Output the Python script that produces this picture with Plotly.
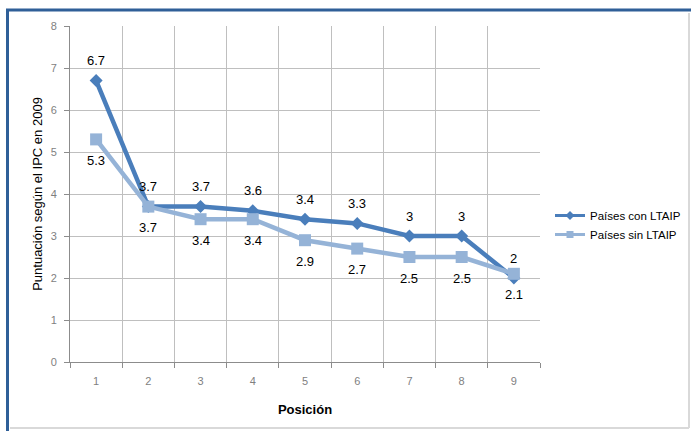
import plotly.graph_objects as go

posiciones = ["1", "2", "3", "4", "5", "6", "7", "8", "9"]
con_ltaip = [6.7, 3.7, 3.7, 3.6, 3.4, 3.3, 3, 3, 2]
sin_ltaip = [5.3, 3.7, 3.4, 3.4, 2.9, 2.7, 2.5, 2.5, 2.1]
y_ticks = [0, 1, 2, 3, 4, 5, 6, 7, 8]

W, H = 691, 431
L, R, T, B = 70, 540, 26, 362

C_DARK = "#4A7EBB"
C_LIGHT = "#95B3D7"
FONT = "Liberation Sans"


def px_x(p):
    return (p - L) / (R - L)


def px_y(p):
    return (B - p) / (B - T)


fig = go.Figure()
fig.add_trace(go.Scatter(
    x=posiciones, y=con_ltaip, name="Países con LTAIP", showlegend=False,
    mode="lines+markers",
    line=dict(color=C_DARK, width=4.5),
    marker=dict(symbol="diamond", size=10, color=C_DARK),
))
fig.add_trace(go.Scatter(
    x=posiciones, y=sin_ltaip, name="Países sin LTAIP", showlegend=False,
    mode="lines+markers",
    line=dict(color=C_LIGHT, width=4.5),
    marker=dict(symbol="square", size=12, color=C_LIGHT),
))
# legend entries (smaller symbols as in the original)
fig.add_trace(go.Scatter(
    x=[None], y=[None], name="Países con LTAIP", mode="lines+markers",
    line=dict(color=C_DARK, width=3),
    marker=dict(symbol="diamond", size=7, color=C_DARK),
))
fig.add_trace(go.Scatter(
    x=[None], y=[None], name="Países sin LTAIP", mode="lines+markers",
    line=dict(color=C_LIGHT, width=3),
    marker=dict(symbol="square", size=7, color=C_LIGHT),
))

annotations = []
for i, yv in enumerate(con_ltaip):
    annotations.append(dict(x=i, y=yv, text=str(yv), showarrow=False,
                            yshift=20, font=dict(family=FONT, size=13, color="#000000")))
for i, yv in enumerate(sin_ltaip):
    annotations.append(dict(x=i, y=yv, text=str(yv), showarrow=False,
                            yshift=-21, font=dict(family=FONT, size=13, color="#000000")))

fig.update_layout(
    width=W, height=H,
    margin=dict(l=L, r=W - R, t=T, b=H - B, pad=0, autoexpand=False),
    paper_bgcolor="white", plot_bgcolor="white",
    font=dict(family=FONT, color="#000000"),
    showlegend=True,
    annotations=annotations,
    legend=dict(x=px_x(550), y=px_y(201), xanchor="left", yanchor="top",
                font=dict(family=FONT, size=11.5, color="#000000"),
                bgcolor="rgba(0,0,0,0)", itemwidth=30),
    xaxis=dict(
        type="category", range=[-0.5, 8.5], tickson="boundaries",
        showgrid=True, gridcolor="#BFBFBF", gridwidth=1,
        showline=True, linecolor="#8C8C8C", linewidth=1,
        ticks="outside", ticklen=5, tickcolor="#8C8C8C",
        ticklabelstandoff=9,
        tickfont=dict(family=FONT, size=11, color="#7F7F7F"),
        title=dict(text="<b>Posición</b>", font=dict(family=FONT, size=13, color="#000000"), standoff=18),
        fixedrange=True,
    ),
    yaxis=dict(
        range=[0, 8], tickvals=y_ticks,
        showgrid=True, gridcolor="#BFBFBF", gridwidth=1,
        showline=True, linecolor="#8C8C8C", linewidth=1,
        ticks="outside", ticklen=5, tickcolor="#8C8C8C",
        ticklabelstandoff=5,
        tickfont=dict(family=FONT, size=11, color="#7F7F7F"),
        title=dict(text="Puntuación según el IPC en 2009", font=dict(family=FONT, size=13, color="#000000"), standoff=5),
        zeroline=False, fixedrange=True,
    ),
)

# outer frame: blue top/left, light gray right/bottom
fig.add_shape(type="line", xref="paper", yref="paper",
              x0=px_x(6), x1=px_x(691), y0=px_y(10), y1=px_y(10),
              line=dict(color="#2F5F98", width=3))
fig.add_shape(type="line", xref="paper", yref="paper",
              x0=px_x(7.5), x1=px_x(7.5), y0=px_y(9), y1=px_y(431),
              line=dict(color="#2F5F98", width=3))
fig.add_shape(type="line", xref="paper", yref="paper",
              x0=px_x(689), x1=px_x(689), y0=px_y(13), y1=px_y(428),
              line=dict(color="#D9D9D9", width=2))
fig.add_shape(type="line", xref="paper", yref="paper",
              x0=px_x(10), x1=px_x(689), y0=px_y(428), y1=px_y(428),
              line=dict(color="#D9D9D9", width=2))

fig.write_html(
    "out.html",
    config={"displayModeBar": False, "staticPlot": True},
    post_script="document.body.style.margin='0';document.body.style.overflow='hidden';",
)
